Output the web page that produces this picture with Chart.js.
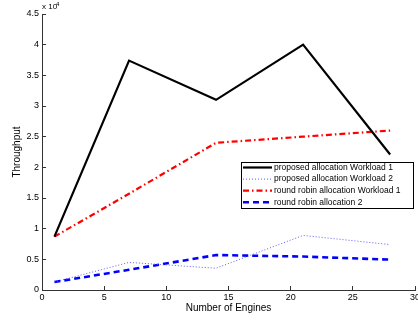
<!DOCTYPE html>
<html>
<head>
<meta charset="utf-8">
<script src="https://cdn.jsdelivr.net/npm/chart.js@4.4.0/dist/chart.umd.min.js"></script>
<style>
    html, body { margin: 0; padding: 0; background: #fff; }
    canvas { display: block; }
</style>
</head>
<body>
<canvas id="chart" width="418" height="322"></canvas>
<script>
// data
const engines = [1, 7, 14, 21, 28];
const proposedW1 = [8700, 37400, 31000, 40000, 22100];
const proposedW2 = [1300, 4500, 3550, 8900, 7400];
const roundRobinW1 = [8700, 15700, 24000, 25000, 26000];
const roundRobin2 = [1300, 3300, 5700, 5450, 4950];
const seriesNames = [
    'proposed allocation Workload 1',
    'proposed allocation Workload 2',
    'round robin allocation Workload 1',
    'round robin allocation 2'
];

const FONT = "'Liberation Sans', Arial, Helvetica, sans-serif";

function toPoints(values) {
    return engines.map((e, i) => ({ x: e, y: values[i] }));
}

// legend box inside the axes + the "x 10^4" exponent label
const matlabExtras = {
    id: 'matlabExtras',
    afterDraw(chart) {
        const ctx = chart.ctx;
        ctx.save();

        // exponent label
        ctx.fillStyle = '#000';
        ctx.textBaseline = 'middle';
        ctx.textAlign = 'left';
        ctx.font = '8px ' + FONT;
        ctx.fillText('x 10', 42, 7);
        ctx.font = '6px ' + FONT;
        ctx.fillText('4', 56, 4);

        // legend
        const box = { x: 241, y: 162, w: 172, h: 46 };
        ctx.fillStyle = '#fff';
        ctx.fillRect(box.x, box.y, box.w, box.h);
        ctx.strokeStyle = '#000';
        ctx.lineWidth = 1;
        ctx.setLineDash([]);
        ctx.strokeRect(box.x + 0.5, box.y + 0.5, box.w, box.h);

        ctx.font = '8.5px ' + FONT;
        chart.data.datasets.forEach((ds, i) => {
            const y = box.y + 5.5 + i * 11.6;
            ctx.beginPath();
            ctx.setLineDash(ds.borderDash || []);
            ctx.lineWidth = ds.borderWidth;
            ctx.strokeStyle = ds.borderColor;
            ctx.moveTo(box.x + 2, y);
            ctx.lineTo(box.x + 31, y);
            ctx.stroke();
            ctx.setLineDash([]);
            ctx.fillStyle = '#000';
            ctx.fillText(ds.label, box.x + 33, y);
        });
        ctx.restore();
    }
};

new Chart(document.getElementById('chart'), {
    type: 'line',
    data: {
        datasets: [{
            label: seriesNames[0],
            data: toPoints(proposedW1),
            borderColor: '#000',
            borderWidth: 2.2
        }, {
            label: seriesNames[1],
            data: toPoints(proposedW2),
            borderColor: '#5a5aff',
            borderWidth: 1,
            borderDash: [1, 2]
        }, {
            label: seriesNames[2],
            data: toPoints(roundRobinW1),
            borderColor: '#ff0000',
            borderWidth: 2.2,
            borderDash: [6, 3, 1.5, 3]
        }, {
            label: seriesNames[3],
            data: toPoints(roundRobin2),
            borderColor: '#0000ff',
            borderWidth: 2.6,
            borderDash: [6, 4]
        }]
    },
    options: {
        responsive: false,
        animation: false,
        devicePixelRatio: 1,
        layout: { padding: { top: 14, right: 3, bottom: 0, left: 0 } },
        elements: { point: { radius: 0 }, line: { tension: 0 } },
        plugins: {
            legend: { display: false },
            tooltip: { enabled: false }
        },
        scales: {
            x: {
                type: 'linear',
                min: 0,
                max: 30,
                ticks: { stepSize: 5, font: { family: FONT, size: 9 }, color: '#000', padding: 6, maxRotation: 0 },
                grid: { drawOnChartArea: false, tickLength: -4, color: '#333' },
                border: { color: '#333', width: 1 },
                title: {
                    display: true, text: 'Number of Engines', color: '#000',
                    font: { family: FONT, size: 10 }, padding: { top: 0, bottom: 8 }
                },
                afterFit(scale) {
                    scale.height = 32;
                    scale.paddingRight = 0;
                    scale.paddingLeft = 0;
                }
            },
            y: {
                min: 0,
                max: 45000,
                ticks: {
                    stepSize: 5000,
                    font: { family: FONT, size: 9 },
                    color: '#000',
                    padding: 7,
                    callback: v => String(v / 10000)
                },
                grid: { drawOnChartArea: false, tickLength: -4, color: '#333' },
                border: { color: '#333', width: 1 },
                title: {
                    display: true, text: 'Throughput', color: '#000',
                    font: { family: FONT, size: 10 }, padding: { top: 11, bottom: 0 }
                },
                afterFit(scale) {
                    scale.width = 42;
                }
            }
        }
    },
    plugins: [matlabExtras]
});
</script>
</body>
</html>
